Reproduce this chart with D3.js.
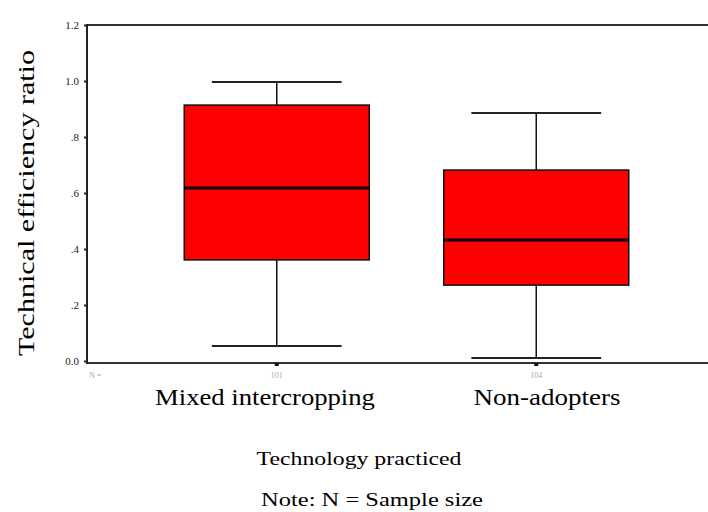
<!doctype html>
<html lang="en">
<head>
<meta charset="utf-8">
<title>Technical efficiency ratio</title>
<script src="https://d3js.org/d3.v7.min.js"></script>
<style>
  body { margin: 0; background: #fff; }
  svg { display: block; }
  text { font-family: "Times New Roman", "Liberation Serif", Times, serif; }
</style>
</head>
<body>
<div id="chart"></div>
<script>
// data
var categories = ["Mixed intercropping", "Non-adopters"];
var whiskerLow = [0.054, 0.011];
var q1 = [0.361, 0.271];
var median = [0.618, 0.432];
var q3 = [0.914, 0.682];
var whiskerHigh = [0.996, 0.886];
var sampleN = ["101", "104"];
var yTicks = [0, 0.2, 0.4, 0.6, 0.8, 1.0, 1.2];
var yTickLabels = ["0.0", ".2", ".4", ".6", ".8", "1.0", "1.2"];

var w = 708, h = 512;
var mLeft = 87, mRight = 708, mTop = 25, mBottom = 363;

var svg = d3.select("#chart").append("svg")
  .attr("width", w)
  .attr("height", h);

var y = d3.scaleLinear().domain([0, 1.2]).range([361, mTop]);
var x = d3.scaleBand().domain(categories).range([147, 666]).padding(0);
var bw = x.bandwidth();
var boxW = bw * 0.713;
var capW = bw * 0.5;

// the original picture was stretched, so stretch the glyphs to the same width
function stretchText(txt, size, px, py, width, rot) {
  var t = svg.append("text")
    .attr("text-anchor", "middle")
    .style("font-size", size + "px")
    .text(txt);
  var sx = width / t.node().getComputedTextLength();
  t.attr("transform", "translate(" + px + "," + py + ")" + (rot ? " rotate(" + rot + ")" : "") + " scale(" + sx + ",1)");
  return t;
}

// frame: top and bottom lines (no right border in the original)
svg.append("line")
  .attr("x1", mLeft).attr("x2", mRight).attr("y1", mTop).attr("y2", mTop)
  .attr("stroke", "#333").attr("stroke-width", 2);
svg.append("line")
  .attr("x1", mLeft).attr("x2", mRight).attr("y1", mBottom).attr("y2", mBottom)
  .attr("stroke", "#333").attr("stroke-width", 2);

// y axis
var yAxis = d3.axisLeft(y)
  .tickValues(yTicks)
  .tickSize(3)
  .tickPadding(5)
  .tickFormat(function(d, i) { return yTickLabels[i]; });
var gy = svg.append("g").attr("transform", "translate(" + mLeft + ",0)").call(yAxis);
gy.attr("font-family", null);
gy.select(".domain").remove();
gy.append("line")
  .attr("x1", 0).attr("x2", 0).attr("y1", mTop - 1).attr("y2", mBottom + 1)
  .attr("stroke", "#222").attr("stroke-width", 2);
gy.selectAll(".tick line").attr("stroke", "#222").attr("stroke-width", 2);
gy.selectAll(".tick text")
  .attr("fill", "#222")
  .style("font-size", "11px");

// boxes
var labelLen = [220, 147];
var labelX = [265, 547];
var g = svg.append("g");
d3.range(categories.length).forEach(function(i) {
  var cx = x(categories[i]) + bw / 2;
  // whisker stems
  g.append("line")
    .attr("x1", cx).attr("x2", cx)
    .attr("y1", y(whiskerHigh[i])).attr("y2", y(q3[i]))
    .attr("stroke", "#111").attr("stroke-width", 1.5);
  g.append("line")
    .attr("x1", cx).attr("x2", cx)
    .attr("y1", y(q1[i])).attr("y2", y(whiskerLow[i]))
    .attr("stroke", "#111").attr("stroke-width", 1.5);
  // caps
  [whiskerHigh[i], whiskerLow[i]].forEach(function(v) {
    g.append("line")
      .attr("x1", cx - capW / 2).attr("x2", cx + capW / 2)
      .attr("y1", y(v)).attr("y2", y(v))
      .attr("stroke", "#222").attr("stroke-width", 2);
  });
  // box
  g.append("rect")
    .attr("x", cx - boxW / 2)
    .attr("y", y(q3[i]))
    .attr("width", boxW)
    .attr("height", y(q1[i]) - y(q3[i]))
    .attr("fill", "#ff0000")
    .attr("stroke", "#111")
    .attr("stroke-width", 1.5);
  // median
  g.append("line")
    .attr("x1", cx - boxW / 2).attr("x2", cx + boxW / 2)
    .attr("y1", y(median[i])).attr("y2", y(median[i]))
    .attr("stroke", "#000").attr("stroke-width", 3);
  // small tick under box on x axis
  g.append("rect")
    .attr("x", cx - 2).attr("y", mBottom)
    .attr("width", 4).attr("height", 3)
    .attr("fill", "#111");
  // N label
  g.append("text")
    .attr("x", cx).attr("y", 378)
    .attr("text-anchor", "middle")
    .attr("fill", "#aaa")
    .style("font-size", "8px")
    .text(sampleN[i]);
  // category label
  stretchText(categories[i], 23, labelX[i], 405, labelLen[i]);
});

svg.append("text")
  .attr("x", 89).attr("y", 378)
  .attr("fill", "#aaa")
  .style("font-size", "8px")
  .text("N =");

// y label
stretchText("Technical efficiency ratio", 24, 34, 203, 306, -90);

stretchText("Technology practiced", 19, 359, 465, 205);
stretchText("Note: N = Sample size", 19, 372, 506, 222);
</script>
</body>
</html>
